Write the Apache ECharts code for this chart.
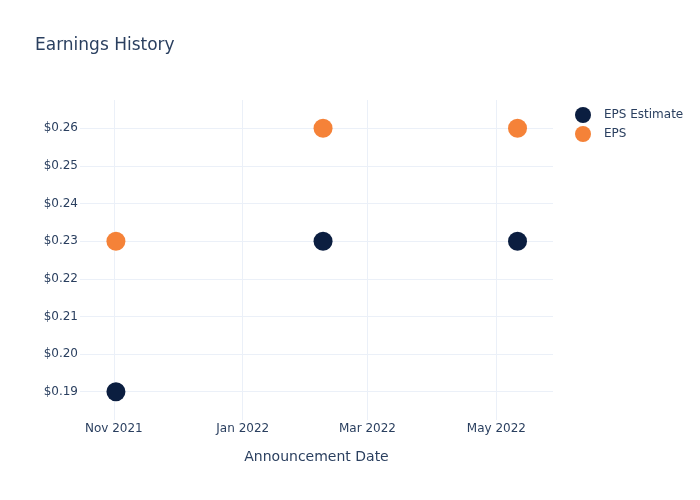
<!DOCTYPE html>
<html>
<head>
<meta charset="utf-8">
<script src="https://cdn.jsdelivr.net/npm/echarts@6/dist/echarts.min.js"></script>
<style>html,body{margin:0;padding:0;background:#fff}#c{width:700px;height:500px}</style>
</head>
<body>
<div id="c"></div>
<script>
const dates = ['2021-11-02', '2022-02-08', '2022-05-11'];
const epsEstimate = [0.19, 0.23, 0.23];
const eps = [0.23, 0.26, 0.26];
const seriesNames = ['EPS Estimate', 'EPS'];
const monthNames = ['Jan','Feb','Mar','Apr','May','Jun','Jul','Aug','Sep','Oct','Nov','Dec'];

const FONT = 'DejaVu Sans';
const TXT = '#2a3f5f';
const GRIDC = '#ebf0f8';

const chart = echarts.init(document.getElementById('c'), null, {renderer: 'canvas'});
chart.setOption({
  animation: false,
  backgroundColor: '#fff',
  title: {
    text: 'Earnings History', left: 30, top: 32,
    textStyle: {fontFamily: FONT, fontSize: 17, fontWeight: 'normal', color: TXT}
  },
  legend: {
    orient: 'vertical', left: 570, top: 102,
    itemWidth: 16, itemHeight: 16, itemGap: 3,
    icon: 'circle',
    textStyle: {fontFamily: FONT, fontSize: 12, color: TXT, padding: [0, 0, 0, 8]},
    data: seriesNames
  },
  grid: {left: 80, right: 147, top: 100, bottom: 80, containLabel: false},
  xAxis: {
    type: 'time',
    min: new Date(2021, 9, 16).getTime(),
    max: new Date(2022, 4, 27, 19).getTime(),
    splitNumber: 3,
    name: 'Announcement Date', nameLocation: 'middle', nameGap: 30,
    nameTextStyle: {fontFamily: FONT, fontSize: 14, color: TXT},
    axisLine: {show: false}, axisTick: {show: false},
    axisLabel: {
      fontFamily: FONT, fontSize: 12, color: TXT, margin: 3,
      showMinLabel: false, showMaxLabel: false,
      formatter: function (v) { const d = new Date(v); return monthNames[d.getMonth()] + ' ' + d.getFullYear(); }
    },
    splitLine: {show: true, showMinLine: false, showMaxLine: false, lineStyle: {color: GRIDC, width: 1}},
    minorSplitLine: {show: false}
  },
  yAxis: {
    type: 'value',
    min: 0.18248, max: 0.26752,
    splitNumber: 8,
    axisLine: {show: false}, axisTick: {show: false},
    axisLabel: {
      fontFamily: FONT, fontSize: 12, color: TXT, margin: 2,
      showMinLabel: false, showMaxLabel: false,
      formatter: function (v) { return '$' + v.toFixed(2); }
    },
    splitLine: {show: true, showMinLine: false, showMaxLine: false, lineStyle: {color: GRIDC, width: 1}}
  },
  series: [
    {
      name: seriesNames[0], type: 'scatter', symbol: 'circle', symbolSize: 19,
      itemStyle: {color: '#0b1e40', opacity: 1},
      data: dates.map((d, i) => [d, epsEstimate[i]])
    },
    {
      name: seriesNames[1], type: 'scatter', symbol: 'circle', symbolSize: 19,
      itemStyle: {color: '#f58238', opacity: 1},
      data: dates.map((d, i) => [d, eps[i]])
    }
  ]
});
</script>
</body>
</html>
